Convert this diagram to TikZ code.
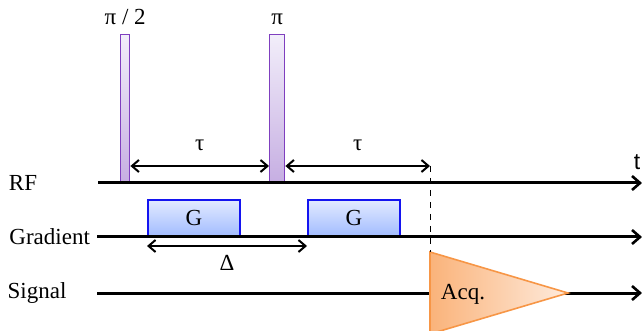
\documentclass[tikz,border=0pt]{standalone}
\usepackage{fontspec}
\setmainfont{Liberation Serif}
\newfontfamily\achsfont{Liberation Sans}
\usetikzlibrary{arrows.meta,positioning}

\definecolor{pulsrand}{HTML}{7F3FBF}
\definecolor{pulsoben}{HTML}{F2EEFA}
\definecolor{pulsunten}{HTML}{C6AEE2}
\definecolor{gradrand}{HTML}{1414F0}
\definecolor{gradoben}{HTML}{E2EAFF}
\definecolor{gradunten}{HTML}{A2BCFF}
\definecolor{acqrand}{HTML}{F79646}
\definecolor{acqlinks}{HTML}{FAB37A}
\definecolor{acqrechts}{HTML}{FEEBDD}

\begin{document}
\begin{tikzpicture}[x=0.5pt, y=-0.5pt,
		achse/.style={line width=1.5pt, -{Straight Barb[length=4pt,width=7pt,line width=1.3pt]}},
		mass/.style={line width=0.7pt, {Straight Barb[length=3.5pt,width=6pt,line width=1pt]}-{Straight Barb[length=3.5pt,width=6pt,line width=1pt]}},
		puls/.style={draw=pulsrand, line width=0.7pt, top color=pulsoben, bottom color=pulsunten, rectangle, anchor=south west, inner sep=0pt},
		gradbox/.style={draw=gradrand, line width=0.9pt, top color=gradoben, bottom color=gradunten, rectangle, anchor=south west, inner sep=0pt},
		font=\fontsize{11.5}{13}\selectfont]
	% Rahmen
	\useasboundingbox (0,0) rectangle (642,331);
	% Achsen
	\coordinate (rfa) at (98,183);
	\coordinate (rfe) at (642,183);
	\coordinate (gra) at (97,237);
	\coordinate (gre) at (642,237);
	\coordinate (sia) at (97,293);
	\coordinate (sie) at (642,293);
	\draw[achse] (sia) -- (sie);
	% Akquisition (Dreieck)
	\coordinate (acqo) at (430,252);
	\coordinate (acqs) at (568,293);
	\coordinate (acqu) at (430,334);
	\fill[left color=acqlinks, right color=acqrechts] (acqo) -- (acqs) -- (acqu) -- cycle;
	\draw[acqrand, line width=0.8pt] (acqo) -- (acqs) -- (acqu) -- cycle;
	\node (acq) at (463,294) {Acq.};
	% Pulse
	\node[puls, minimum width=4.5pt, minimum height=74pt] (p1) at (120,183) {};
	\node[puls, minimum width=7.5pt, minimum height=74pt] (p2) at (269,183) {};
	\node[above=1pt of p1] (l1) {π / 2};
	\node[above=1pt of p2] (l2) {π};
	% Gradienten
	\node[gradbox, minimum width=46pt, minimum height=18pt] (g1) at (147,237) {G};
	\node[gradbox, minimum width=46pt, minimum height=18pt] (g2) at (307,237) {G};
	% Linien
	\draw[achse] (rfa) -- (rfe);
	\draw[achse] (gra) -- (gre);
	% Beschriftung
	\node (rf) at (23,183) {RF};
	\node[left=0pt of gra] (gr) {Gradient};
	\node (si) at (37,293) {Signal};
	\node[font=\achsfont\fontsize{11.5}{13}\selectfont] (t) at (637,162) {t};
	% Zeiten
	\coordinate (tauende) at (430,166);
	\draw[mass] (p1.east |- tauende) -- node[above=4pt] (tau1) {τ} (p2.west |- tauende);
	\draw[mass] (p2.east |- tauende) -- node[above=4pt] (tau2) {τ} (tauende);
	\draw[dashed, line width=0.5pt] (tauende) -- (acqo);
	\coordinate (deltaende) at (307,246);
	\draw[mass] (g1.west |- deltaende) -- node[below=1pt] (delta) {Δ} (deltaende);
\end{tikzpicture}
\end{document}
